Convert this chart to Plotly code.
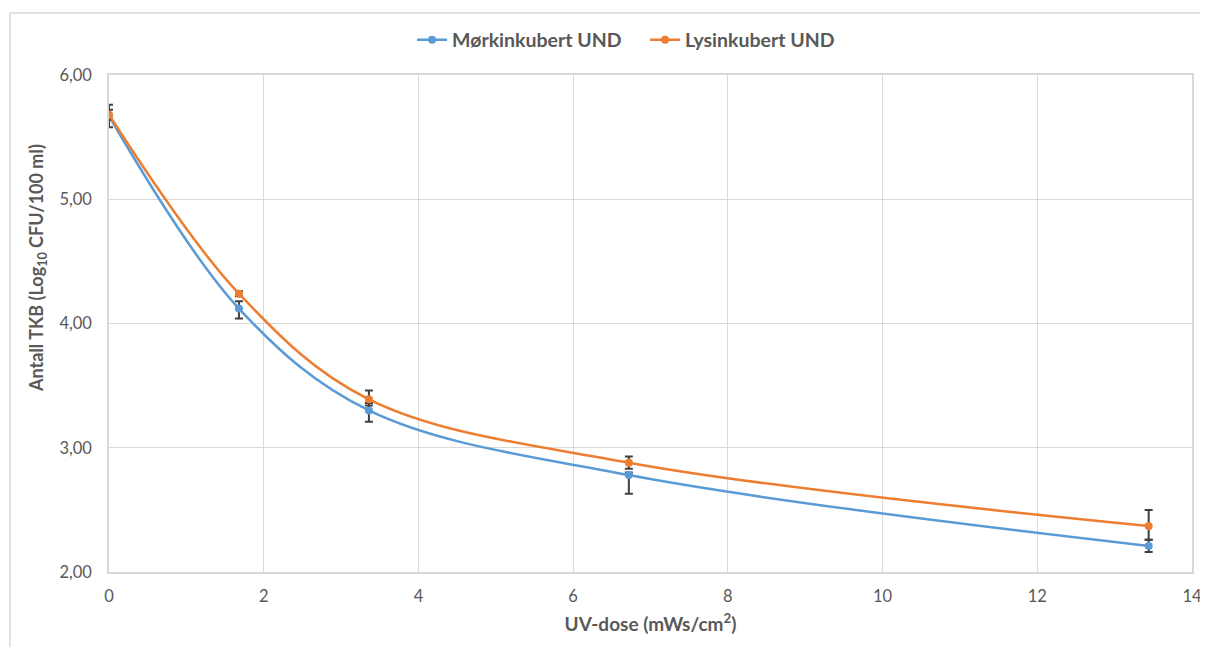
import plotly.graph_objects as go

uv_dose = [0, 1.68, 3.36, 6.72, 13.44]
dark_vals = [5.67, 4.12, 3.30, 2.78, 2.21]
dark_err_plus = [0.09, 0.06, 0.06, 0.02, 0.05]
dark_err_minus = [0.09, 0.08, 0.09, 0.15, 0.05]
light_vals = [5.68, 4.24, 3.39, 2.88, 2.37]
light_err_plus = [0.04, 0.02, 0.07, 0.05, 0.13]
light_err_minus = [0.04, 0.02, 0.05, 0.05, 0.11]

BLUE = "#5b9bd5"
ORANGE = "#ed7d31"
ERR = "#404040"
TXT = "#595959"
GRID = "#d9d9d9"
FONT = "Lato, Liberation Sans, sans-serif"

fig = go.Figure()
for name, vals, ep, em, col in [
    ("Mørkinkubert UND", dark_vals, dark_err_plus, dark_err_minus, BLUE),
    ("Lysinkubert UND", light_vals, light_err_plus, light_err_minus, ORANGE),
]:
    fig.add_trace(go.Scatter(
        x=uv_dose, y=vals, name=name, mode="lines+markers",
        line=dict(color=col, width=2.5, shape="spline", smoothing=1.0),
        marker=dict(color=col, size=8),
        error_y=dict(type="data", symmetric=False, array=ep, arrayminus=em,
                     color=ERR, thickness=2, width=4),
    ))

fig.update_layout(
    width=1208, height=647,
    paper_bgcolor="white", plot_bgcolor="white",
    separators=",.",
    margin=dict(l=101, r=24, t=67, b=83, autoexpand=False),
    font=dict(family=FONT, color=TXT, size=16),
    legend=dict(orientation="h", x=0.495, xanchor="center",
                y=1.0704, yanchor="middle", entrywidth=188, entrywidthmode="pixels",
                font=dict(family=FONT, size=19.5, color=TXT, weight="bold")),
    showlegend=True,
    shapes=[dict(type="rect", xref="paper", yref="paper",
                 x0=-0.0914, x1=1.2, y0=-0.3, y1=1.1247,
                 line=dict(color=GRID, width=1.5), fillcolor="rgba(0,0,0,0)", layer="below")],
    annotations=[dict(text="Antall TKB (Log<sub>10</sub> CFU/100 ml)", textangle=-90,
                      xref="paper", yref="paper", x=-0.0656, y=0.6117,
                      xanchor="center", yanchor="middle", showarrow=False,
                      font=dict(family=FONT, size=18, color=TXT, weight="bold"))],
)
fig.update_xaxes(range=[0, 14], dtick=2, tick0=0, showgrid=True, gridcolor=GRID, gridwidth=1,
                 zeroline=False, showline=True, linecolor=GRID, linewidth=1.5, mirror=True,
                 ticks="", ticklabelstandoff=8, tickfont=dict(size=16.5, color=TXT), automargin=False,
                 title=dict(text="UV-dose (mWs/cm<sup>2</sup>)", standoff=13,
                            font=dict(size=19, color=TXT, weight="bold")))
fig.update_yaxes(range=[2, 6], dtick=1, tick0=2, tickformat=".2f", showgrid=True, gridcolor=GRID,
                 gridwidth=1, zeroline=False, showline=True, linecolor=GRID, linewidth=1.5, mirror=True,
                 ticks="", ticklabelstandoff=12, tickfont=dict(size=16.5, color=TXT), automargin=False)

fig.write_html("out.html")
